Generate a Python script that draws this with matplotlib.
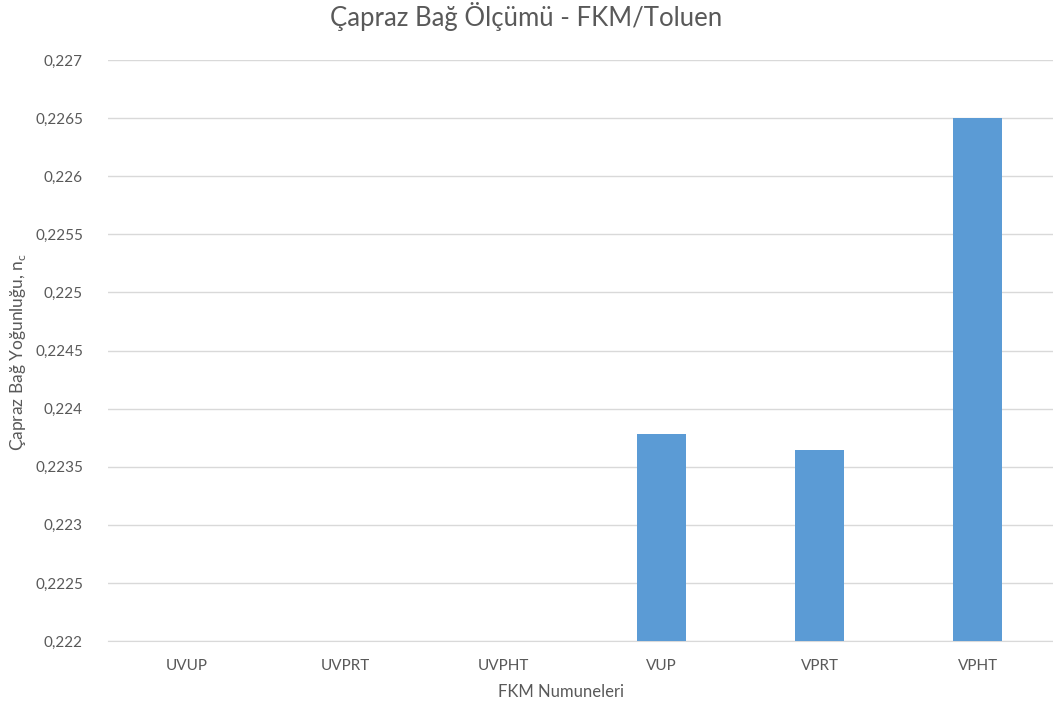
import matplotlib
matplotlib.use("Agg")
import matplotlib.pyplot as plt
from matplotlib.ticker import FuncFormatter, MultipleLocator

categories = ["UVUP", "UVPRT", "UVPHT", "VUP", "VPRT", "VPHT"]
values = [0.0, 0.0, 0.0, 0.22378, 0.22364, 0.2265]

plt.rcParams['font.family'] = ['Lato', 'DejaVu Sans']
text_color = "#595959"

fig = plt.figure(figsize=(10.53, 7.11), dpi=100)
ax = fig.add_axes([108 / 1053, 1 - 641 / 711, (1057 - 108) / 1053, (641 - 60) / 711])

x = range(len(categories))
ax.bar(x, values, width=0.31, color="#5B9BD5", zorder=3)

ax.set_ylim(0.222, 0.227)
ax.set_xlim(-0.5, len(categories) - 0.5)
ax.yaxis.set_major_locator(MultipleLocator(0.0005))
ax.yaxis.set_major_formatter(FuncFormatter(
    lambda v, p: (f"{v:.4f}".rstrip("0").rstrip(".")).replace(".", ",")))
ax.set_xticks(list(x))
ax.set_xticklabels(categories)

ax.grid(axis="y", color="#D9D9D9", linewidth=1, zorder=0)
for s in ["top", "right", "left"]:
    ax.spines[s].set_visible(False)
ax.spines["bottom"].set_color("#D9D9D9")
ax.tick_params(axis="both", length=0, colors=text_color, labelsize=11)
ax.tick_params(axis="y", pad=18)
ax.tick_params(axis="x", pad=13)

fig.text(561 / 1053, 1 - 692 / 711, "FKM Numuneleri", color=text_color,
         fontsize=12, ha="center", va="center")
fig.text(18 / 1053, 1 - 352 / 711, "Çapraz Bağ Yoğunluğu, n$_\\mathregular{c}$",
         color=text_color, fontsize=12.5, ha="center", va="center",
         rotation=90)
fig.suptitle("Çapraz Bağ Ölçümü - FKM/Toluen", color=text_color,
             fontsize=18.5, y=0.997)

fig.savefig("out.png", dpi=100, facecolor="white")
